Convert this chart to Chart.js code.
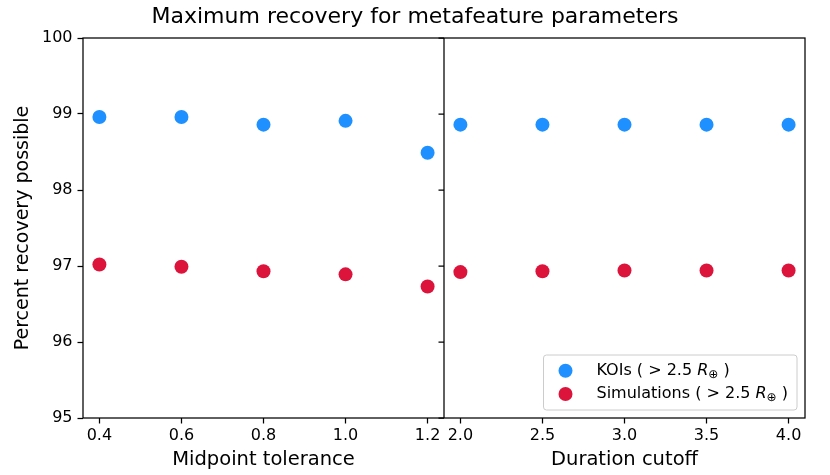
<!DOCTYPE html>
<html>
<head>
<meta charset="utf-8">
<script src="https://cdn.jsdelivr.net/npm/chart.js@4.4.1/dist/chart.umd.min.js"></script>
<style>
  body { margin: 0; background: #fff; }
  #wrap { width: 830px; height: 475px; }
</style>
</head>
<body>
<div id="wrap"><canvas id="recoveryChart"></canvas></div>
<script>
const midpointTolerance = [0.4, 0.6, 0.8, 1.0, 1.2];
const koiMidpoint = [98.96, 98.96, 98.86, 98.91, 98.49];
const simMidpoint = [97.02, 96.99, 96.93, 96.89, 96.73];

const durationCutoff = [2.0, 2.5, 3.0, 3.5, 4.0];
const koiDuration = [98.86, 98.86, 98.86, 98.86, 98.86];
const simDuration = [96.92, 96.93, 96.94, 96.94, 96.94];

const yTicks = [95, 96, 97, 98, 99, 100];

const koiLabel = 'KOIs ( > 2.5 R⊕ )';
const simLabel = 'Simulations ( > 2.5 R⊕ )';
const koiColor = '#1E90FF';
const simColor = '#DC143C';
const FONT = '"DejaVu Sans", sans-serif';

function toPoints(xs, ys) {
    return xs.map((x, i) => ({ x: x, y: ys[i] }));
}

// matplotlib-like 5% margin around the data range
function padRange(xs) {
    const lo = Math.min(...xs), hi = Math.max(...xs);
    const pad = (hi - lo) * 0.05;
    return { min: lo - pad, max: hi + pad };
}

// draws "text R⊕ text" with an italic R and a lowered small ⊕
function drawMathLabel(ctx, text, x, y, draw) {
    const parts = text.split('R⊕');
    let cx = x;
    const piece = (s, font, dy) => {
        ctx.font = font;
        if (draw) ctx.fillText(s, cx, y + dy);
        cx += ctx.measureText(s).width;
    };
    piece(parts[0], '16px ' + FONT, 0);
    if (parts.length > 1) {
        piece('R', 'italic 16px ' + FONT, 0);
        piece('⊕', '12px ' + FONT, 4);
        piece(parts[1], '16px ' + FONT, 0);
    }
    return cx - x;
}

const panelFrame = {
    id: 'panelFrame',
    afterDraw(chart) {
        const ctx = chart.ctx;
        const a = chart.chartArea;
        const split = chart.scales.xMid.right;
        const yScale = chart.scales.y;
        ctx.save();
        ctx.strokeStyle = '#000';
        ctx.lineWidth = 1.25;
        ctx.strokeRect(a.left, a.top, a.right - a.left, a.bottom - a.top);
        ctx.beginPath();
        ctx.moveTo(split, a.top);
        ctx.lineTo(split, a.bottom);
        // y ticks of the right panel, pointing outwards
        yTicks.forEach(v => {
            const py = yScale.getPixelForValue(v);
            ctx.moveTo(split - 5.5, py);
            ctx.lineTo(split, py);
        });
        ctx.stroke();

        // legend, lower right of right panel
        const entries = [
            { label: koiLabel, color: koiColor },
            { label: simLabel, color: simColor }
        ];
        ctx.textBaseline = 'middle';
        const textW = Math.max(...entries.map(e => drawMathLabel(ctx, e.label, 0, 0, false)));
        const w = 53 + textW + 9;
        const h = 55;
        const right = a.right - 8, bottom = a.bottom - 8;
        const left = right - w, top = bottom - h;
        ctx.beginPath();
        ctx.roundRect(left, top, w, h, 3);
        ctx.fillStyle = 'rgba(255,255,255,0.8)';
        ctx.fill();
        ctx.strokeStyle = '#cccccc';
        ctx.lineWidth = 1;
        ctx.stroke();
        entries.forEach((e, i) => {
            const ry = top + 15.7 + i * 23.3;
            ctx.beginPath();
            ctx.arc(left + 22, ry, 7, 0, Math.PI * 2);
            ctx.fillStyle = e.color;
            ctx.fill();
            ctx.fillStyle = '#000';
            drawMathLabel(ctx, e.label, left + 53, ry, true);
        });
        ctx.restore();
    }
};

const midRange = padRange(midpointTolerance);
const durRange = padRange(durationCutoff);

const xAxisBase = (ticksArr, range, title) => ({
    type: 'linear',
    position: 'bottom',
    stack: 'panels',
    stackWeight: 1,
    min: range.min,
    max: range.max,
    afterBuildTicks: s => { s.ticks = ticksArr.map(v => ({ value: v })); },
    afterFit: s => { s.height = 57; },
    grid: { drawOnChartArea: false, tickLength: 5.5, tickColor: '#000', tickWidth: 1.25 },
    border: { display: false },
    ticks: {
        color: '#000',
        font: { family: FONT, size: 16 },
        padding: 3,
        maxRotation: 0,
        autoSkip: false,
        callback: v => Number(v).toFixed(1)
    },
    title: {
        display: true,
        text: title,
        color: '#000',
        font: { family: FONT, size: 19.5 },
        padding: { top: 0, bottom: 3 }
    }
});

const ctx = document.getElementById('recoveryChart');

new Chart(ctx, {
    type: 'scatter',
    data: {
        datasets: [
            { label: koiLabel, data: toPoints(midpointTolerance, koiMidpoint), xAxisID: 'xMid', backgroundColor: koiColor },
            { label: simLabel, data: toPoints(midpointTolerance, simMidpoint), xAxisID: 'xMid', backgroundColor: simColor },
            { label: koiLabel, data: toPoints(durationCutoff, koiDuration), xAxisID: 'xDur', backgroundColor: koiColor },
            { label: simLabel, data: toPoints(durationCutoff, simDuration), xAxisID: 'xDur', backgroundColor: simColor }
        ]
    },
    options: {
        responsive: true,
        maintainAspectRatio: false,
        animation: false,
        layout: { padding: 0 },
        elements: { point: { radius: 7, hoverRadius: 7, borderWidth: 0 } },
        scales: {
            xMid: xAxisBase(midpointTolerance, midRange, 'Midpoint tolerance'),
            xDur: xAxisBase(durationCutoff, durRange, 'Duration cutoff'),
            y: {
                type: 'linear',
                position: 'left',
                min: 95,
                max: 100,
                afterBuildTicks: s => { s.ticks = yTicks.map(v => ({ value: v })); },
                afterFit: s => { s.width = 83; },
                grid: { drawOnChartArea: false, tickLength: 5.5, tickColor: '#000', tickWidth: 1.25 },
                border: { display: false },
                ticks: { color: '#000', font: { family: FONT, size: 16 }, padding: 5 },
                title: {
                    display: true,
                    text: 'Percent recovery possible',
                    color: '#000',
                    font: { family: FONT, size: 19 },
                    padding: { top: 12, bottom: 0 }
                }
            },
            // empty right margin so the title is centred on the whole figure
            yMargin: {
                type: 'linear',
                position: 'right',
                min: 95,
                max: 100,
                afterFit: s => { s.width = 25; },
                grid: { display: false },
                border: { display: false },
                ticks: { display: false }
            }
        },
        plugins: {
            legend: { display: false },
            tooltip: { enabled: false },
            title: {
                display: true,
                text: 'Maximum recovery for metafeature parameters',
                color: '#000',
                font: { family: FONT, size: 22, weight: 'normal' },
                padding: { top: 4, bottom: 7.6 }
            }
        }
    },
    plugins: [panelFrame]
});
</script>
</body>
</html>
